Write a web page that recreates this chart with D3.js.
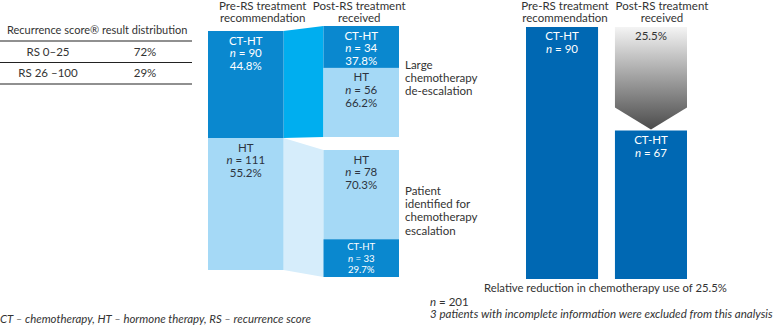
<!DOCTYPE html>
<html>
<head>
<meta charset="utf-8">
<script src="https://cdn.jsdelivr.net/npm/d3@7"></script>
<style>
  html, body { margin: 0; padding: 0; background: #fff; }
  svg { display: block; }
  text { font-family: Lato, "Open Sans", sans-serif; fill: #333; }
</style>
</head>
<body>
<svg id="chart" width="777" height="327"></svg>
<script>
// ---------- data ----------
const distHeader = "Recurrence score® result distribution";
const distCategories = ["RS 0–25", "RS 26 –100"];
const distValues = [72, 29];

const columnNames = ["pre", "post"];
const columnTitles = [["Pre-RS treatment", "recommendation"], ["Post-RS treatment", "received"]];

const preCategories = ["CT-HT", "HT"];
const preN = [90, 111];
const prePct = [44.8, 55.2];

const postFromCTHTCategories = ["CT-HT", "HT"];
const postFromCTHTN = [34, 56];
const postFromCTHTPct = [37.8, 66.2];

const postFromHTCategories = ["HT", "CT-HT"];
const postFromHTN = [78, 33];
const postFromHTPct = [70.3, 29.7];

const annotations = [["Large", "chemotherapy", "de-escalation"],
                     ["Patient", "identified for", "chemotherapy", "escalation"]];

const chemoLabels = ["CT-HT", "CT-HT"];
const chemoN = [90, 67];
const reductionPct = 25.5;

const totalN = 201;
const excludedNote = "3 patients with incomplete information were excluded from this analysis";
const reductionNote = "Relative reduction in chemotherapy use of " + reductionPct + "%";
const abbreviations = "CT – chemotherapy, HT – hormone therapy, RS – recurrence score";

// ---------- styles ----------
const C = {
  dark: "#0a88cf", light: "#a5d9f6", conn1: "#00aeef", conn2: "#d6edfb",
  rdark: "#0068b3", text: "#333333"
};
const colorFor = c => c === "CT-HT" ? C.dark : C.light;
const textFor = c => c === "CT-HT" ? "#ffffff" : "#2d3440";
const FS = 11.5;
const TITLE_Y = 10;

const svg = d3.select("#chart");

// ---------- table ----------
const tbl = svg.append("g");
tbl.append("text").attr("x", 7).attr("y", 34).attr("font-size", 11).text(distHeader);
const rowY = d3.scaleBand().domain(distCategories).range([41, 84]);
tbl.append("line").attr("x1", 0).attr("x2", 192).attr("y1", 41).attr("y2", 41).attr("stroke", "#222").attr("stroke-width", 1.2);
distCategories.forEach((c, i) => {
  const y0 = rowY(c), y1 = y0 + rowY.bandwidth();
  tbl.append("text").attr("x", 48).attr("y", y1 - 7).attr("text-anchor", "middle").attr("font-size", 11.5).text(c);
  tbl.append("text").attr("x", 145).attr("y", y1 - 7).attr("text-anchor", "middle").attr("font-size", 11.5).text(distValues[i] + "%");
  tbl.append("line").attr("x1", 0).attr("x2", 192).attr("y1", y1).attr("y2", y1).attr("stroke", "#222").attr("stroke-width", 1.2);
});

// ---------- middle flow chart ----------
const xm = d3.scaleBand().domain(columnNames).range([208, 399]).paddingInner(0.346);
const preY = d3.scaleLinear().domain([0, d3.sum(preN)]).range([31, 270]);
const postTopY = d3.scaleLinear().domain([0, d3.sum(postFromCTHTN)]).range([26, 137]);
const postBotY = d3.scaleLinear().domain([0, d3.sum(postFromHTN)]).range([150, 277]);

function stack(vals) {
  let acc = 0;
  return vals.map(v => { const s = acc; acc += v; return [s, acc]; });
}
const preStack = stack(preN), topStack = stack(postFromCTHTN), botStack = stack(postFromHTN);

const mid = svg.append("g");
const preR = xm("pre") + xm.bandwidth(), postL = xm("post");
// connectors
mid.append("path").attr("fill", C.conn1).attr("d", d3.line()([
  [preR, preY(preStack[0][0])], [postL, postTopY(0)],
  [postL, postTopY(d3.sum(postFromCTHTN))], [preR, preY(preStack[0][1])]]));
mid.append("path").attr("fill", C.conn2).attr("d", d3.line()([
  [preR, preY(preStack[1][0])], [postL, postBotY(0)],
  [postL, postBotY(d3.sum(postFromHTN))], [preR, preY(preStack[1][1])]]));

function drawSegments(col, cats, ns, pcts, st, y) {
  cats.forEach((c, i) => {
    const x = xm(col), w = xm.bandwidth();
    const y0 = y(st[i][0]), y1 = y(st[i][1]);
    const h = y1 - y0;
    const tight = h < 40;
    const fs = tight ? 9.6 : FS;
    const off = tight ? 11 : 13.5, lh = tight ? 11.4 : 12.8;
    mid.append("rect").attr("x", x).attr("y", y0).attr("width", w).attr("height", h).attr("fill", colorFor(c));
    const t = mid.append("text").attr("x", x + w / 2).attr("y", y0 + off).attr("text-anchor", "middle")
      .attr("font-size", fs).style("fill", textFor(c));
    t.append("tspan").attr("x", x + w / 2).text(c);
    const t2 = t.append("tspan").attr("x", x + w / 2).attr("dy", lh);
    t2.append("tspan").attr("font-style", "italic").text("n");
    t2.append("tspan").text(" = " + ns[i]);
    t.append("tspan").attr("x", x + w / 2).attr("dy", lh).text(pcts[i].toFixed(1) + "%");
  });
}
drawSegments("pre", preCategories, preN, prePct, preStack, preY);
drawSegments("post", postFromCTHTCategories, postFromCTHTN, postFromCTHTPct, topStack, postTopY);
drawSegments("post", postFromHTCategories, postFromHTN, postFromHTPct, botStack, postBotY);

// column titles
const midTitleX = [xm("pre") + xm.bandwidth() / 2 + 17, xm("post") + xm.bandwidth() / 2 - 2];
columnTitles.forEach((lines, i) => {
  const t = mid.append("text").attr("x", midTitleX[i]).attr("y", TITLE_Y).attr("text-anchor", "middle").attr("font-size", FS);
  lines.forEach((l, j) => t.append("tspan").attr("x", midTitleX[i]).attr("dy", j ? 12 : 0).text(l));
});

// annotations
const annY = [69, 195];
annotations.forEach((lines, i) => {
  const t = mid.append("text").attr("x", 405).attr("y", annY[i]).attr("font-size", FS);
  lines.forEach((l, j) => t.append("tspan").attr("x", 405).attr("dy", j ? 13.2 : 0).text(l));
});

// ---------- right chart ----------
const xr = d3.scaleBand().domain(columnNames).range([526, 687]).paddingInner(0.19);
const yr = d3.scaleLinear().domain([34, 90]).range([279, 27]);
const right = svg.append("g");

const defs = svg.append("defs");
const grad = defs.append("linearGradient").attr("id", "arrowGrad")
  .attr("gradientUnits", "userSpaceOnUse").attr("x1", 0).attr("x2", 0)
  .attr("y1", yr(chemoN[0])).attr("y2", yr(chemoN[1]));
grad.append("stop").attr("offset", "0%").attr("stop-color", "#f4f4f4");
grad.append("stop").attr("offset", "100%").attr("stop-color", "#4a4a4a");

columnNames.forEach((col, i) => {
  const x = xr(col), w = xr.bandwidth();
  right.append("rect").attr("x", x).attr("y", yr(chemoN[i])).attr("width", w)
    .attr("height", yr(34) - yr(chemoN[i])).attr("fill", C.rdark);
  const cy = yr(chemoN[i]) + 13;
  const t = right.append("text").attr("x", x + w / 2).attr("y", cy).attr("text-anchor", "middle")
    .attr("font-size", FS).style("fill", "#fff");
  t.append("tspan").attr("x", x + w / 2).text(chemoLabels[i]);
  const t2 = t.append("tspan").attr("x", x + w / 2).attr("dy", 13);
  t2.append("tspan").attr("font-style", "italic").text("n");
  t2.append("tspan").text(" = " + chemoN[i]);
});

// arrow
{
  const x = xr("post"), w = xr.bandwidth();
  const top = yr(chemoN[0]), tip = yr(chemoN[1]) - 1, shoulder = tip - 22;
  right.append("path").attr("fill", "url(#arrowGrad)").attr("d", d3.line()([
    [x, top], [x + w, top], [x + w, shoulder], [x + w / 2, tip], [x, shoulder]]) + "Z");
  right.append("text").attr("x", x + w / 2).attr("y", top + 13).attr("text-anchor", "middle")
    .attr("font-size", FS).text(reductionPct + "%");
}

const rightTitleX = [xr("pre") + xr.bandwidth() / 2 + 3, xr("post") + xr.bandwidth() / 2 + 11];
columnTitles.forEach((lines, i) => {
  const t = right.append("text").attr("x", rightTitleX[i]).attr("y", TITLE_Y).attr("text-anchor", "middle").attr("font-size", FS);
  lines.forEach((l, j) => t.append("tspan").attr("x", rightTitleX[i]).attr("dy", j ? 12 : 0).text(l));
});

right.append("text").attr("x", 484).attr("y", 292).attr("font-size", 11.3).text(reductionNote);

// ---------- notes ----------
const nt = svg.append("text").attr("x", 430).attr("y", 306).attr("font-size", 11.5);
nt.append("tspan").attr("font-style", "italic").text("n");
nt.append("tspan").text(" = " + totalN);
svg.append("text").attr("x", 430).attr("y", 318).attr("font-size", 11.55).attr("font-style", "italic").text(excludedNote);
svg.append("text").attr("x", 0).attr("y", 323).attr("font-size", 11.4).attr("font-style", "italic").text(abbreviations);
</script>
</body>
</html>
